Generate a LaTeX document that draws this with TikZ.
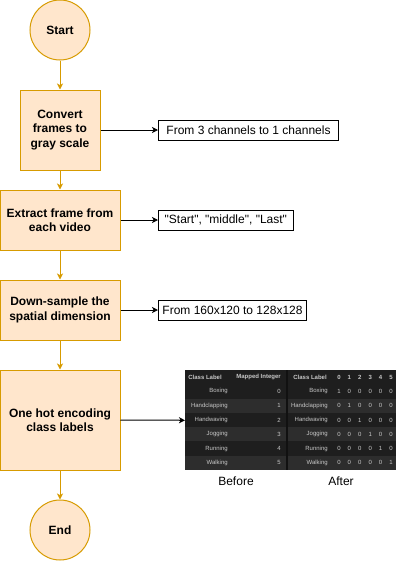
\documentclass[tikz,border=0pt]{standalone}
\usepackage{fontspec}
\setmainfont{Liberation Sans}
\usepackage{xcolor}
\usepackage{tikz}
\usetikzlibrary{arrows.meta,positioning,calc}
\definecolor{flfill}{HTML}{FFE6CC}
\definecolor{flline}{HTML}{D79B00}
\definecolor{tbdark}{HTML}{1E1E1E}
\definecolor{tblite}{HTML}{2D2D2D}
\definecolor{tbsep}{HTML}{111111}
\definecolor{tbtext}{HTML}{C8C8C8}
\tikzset{
  term/.style={circle, draw=flline, fill=flfill, line width=0.75pt, minimum size=45pt,
               inner sep=0pt, font=\fontsize{9}{10.8}\selectfont\bfseries},
  block/.style={rectangle, draw=flline, fill=flfill, line width=0.75pt, align=center,
                inner sep=2pt, font=\fontsize{9}{10.8}\selectfont\bfseries},
  note/.style={rectangle, draw=black, fill=white, line width=0.75pt, align=center,
               minimum height=15pt, inner sep=2pt, font=\fontsize{9}{10.8}\selectfont},
  ar/.style={-{Stealth[length=4.5pt,width=4.5pt,inset=1.2pt]}, draw=flline, fill=flline, line width=0.75pt},
  arb/.style={-{Stealth[length=4.5pt,width=4.5pt,inset=1.2pt]}, draw=black, line width=0.75pt},
  tbtxt/.style={inner sep=0pt, text=tbtext, font=\fontsize{4.5}{5.5}\selectfont},
  tbhdr/.style={inner sep=0pt, text=tbtext, font=\fontsize{4.5}{5.5}\selectfont\bfseries},
}
\begin{document}
\begin{tikzpicture}[x=0.75pt,y=-0.75pt]
\useasboundingbox (0,0) rectangle (400,561);
% --- main column
\node[term] (st) at (60,30) {Start};
\node[block,minimum width=60pt,minimum height=60pt] (s1) at (60,130) {Convert\\frames to\\gray scale};
\node[block,minimum width=90pt,minimum height=45pt] (s2) at (60,220) {Extract frame from\\each video};
\node[block,minimum width=90pt,minimum height=45pt] (s3) at (60,310) {Down-sample the\\spatial dimension};
\node[block,minimum width=90pt,minimum height=75pt] (s4) at (60,420) {One hot encoding\\class labels};
\node[term] (en) at (60,530) {End};
\draw[ar] (st)--(s1); \draw[ar] (s1)--(s2); \draw[ar] (s2)--(s3); \draw[ar] (s3)--(s4); \draw[ar] (s4)--(en);

% --- notes on the right
\node[note,minimum width=135pt,anchor=west] (n1) at (158,130) {From 3 channels to 1 channels};
\node[note,minimum width=101pt,anchor=west] (n2) at (158,220)
   {\textquotedbl Start\textquotedbl, \textquotedbl middle\textquotedbl, \textquotedbl Last\textquotedbl};
\node[note,minimum width=111pt,anchor=west] (n3) at (158,310) {From 160x120 to 128x128};
\draw[arb] (s1.east)--(n1.west); \draw[arb] (s2.east)--(n2.west); \draw[arb] (s3.east)--(n3.west);

% --- label tables (before / after)
\node[rectangle,fill=tbdark,inner sep=0pt,minimum width=158.25pt,minimum height=75pt,anchor=north west] (tbl) at (185,370) {};
\foreach \r in {2,4,6}
  \fill[tblite] (185,{370+\r*100/7}) rectangle (396,{370+(\r+1)*100/7});
\draw[tbsep,line width=1.2pt] (287,370) -- (287,470);
\node[tbhdr,anchor=east] (h1) at (222,{370+0.5*100/7}) {Class Label};
\node[tbhdr,anchor=east] (h2) at (281,{370+0.5*100/7}) {Mapped Integer};
\node[tbhdr,anchor=east] (h3) at (327,{370+0.5*100/7}) {Class Label};
\foreach \j in {0,...,5}
  \node[tbhdr] at ({339+\j*10.4},{370+0.5*100/7}) {\j};
\foreach \lab [count=\i from 0] in {Boxing,Handclapping,Handwaving,Jogging,Running,Walking} {
  \node[tbtxt,anchor=east] at (228,{370+(\i+1.5)*100/7}) {\lab};
  \node[tbtxt,anchor=east] at (281,{370+(\i+1.5)*100/7}) {\i};
  \node[tbtxt,anchor=east] at (328,{370+(\i+1.5)*100/7}) {\lab};
  \foreach \j in {0,...,5}
    \node[tbtxt] at ({339+\j*10.4},{370+(\i+1.5)*100/7}) {\ifnum\i=\j\relax 1\else 0\fi};
}
\draw[arb] (s4.east)--(tbl.west);
\node[font=\fontsize{9}{10.8}\selectfont] (bf) at (236,481) {Before};
\node[font=\fontsize{9}{10.8}\selectfont] (af) at (341,481) {After};
\end{tikzpicture}
\end{document}
